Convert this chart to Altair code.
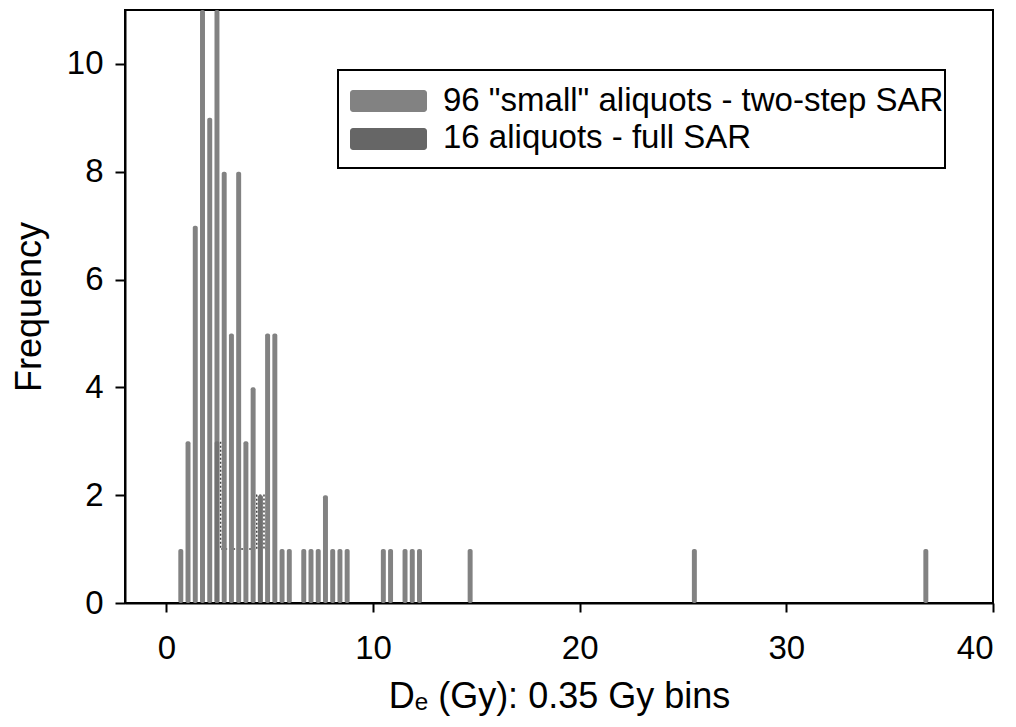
import altair as alt
import pandas as pd

# 96 "small" aliquots - two-step SAR (bin centre in Gy, count)
small_de = [0.7, 1.05, 1.4, 1.75, 2.1, 2.45, 2.8, 3.15, 3.5, 3.85, 4.2, 4.55, 4.9, 5.25,
            5.6, 5.95, 6.65, 7.0, 7.35, 7.7, 8.05, 8.4, 8.75, 10.5, 10.85, 11.55, 11.9,
            12.25, 14.7, 25.55, 36.75]
small_n = [1, 3, 7, 12, 9, 12, 8, 5, 8, 3, 4, 2, 5, 5,
           1, 1, 1, 1, 1, 2, 1, 1, 1, 1, 1, 1, 1,
           1, 1, 1, 1]

# 16 aliquots - full SAR
full_de = [2.45, 2.8, 3.15, 3.5, 3.85, 4.2, 4.55, 4.9]
full_n = [3, 1, 1, 1, 1, 1, 2, 1]

series_names = ['96 "small" aliquots - two-step SAR', '16 aliquots - full SAR']
series_colors = ["#828282", "#666666"]

x_ticks = [0, 10, 20, 30, 40]
y_ticks = [0, 2, 4, 6, 8, 10]

HALF_BAR = 0.12

df_small = pd.DataFrame({"de": small_de, "n": small_n})
df_full = pd.DataFrame({"de": full_de, "n": full_n})
df_one = pd.DataFrame({"k": [0]})

FONT = "Liberation Sans"

xs = alt.Scale(domain=[-2, 40], nice=False, zero=False, padding=0)
ys = alt.Scale(domain=[0, 11], nice=False, clamp=True, padding=0)

common = dict(grid=False, labelFont=FONT, titleFont=FONT, titleFontWeight="normal",
              labelColor="black", titleColor="black", domainColor="black", domainWidth=2,
              tickColor="black", tickWidth=2, labelFontSize=33, titleFontSize=36)

xaxis = alt.Axis(values=x_ticks, title="Dₑ (Gy): 0.35 Gy bins", tickSize=9,
                 labelPadding=20, titlePadding=14, **common)
yaxis = alt.Axis(values=y_ticks, title="Frequency", tickSize=10, labelPadding=12,
                 titlePadding=18, **common)

# full-SAR histogram outline (dotted step line, drawn behind)
full_line = alt.Chart(df_full).mark_line(
    interpolate="step", stroke="#444444", strokeWidth=1.5, strokeDash=[2, 2]
).encode(
    x=alt.X("de:Q", scale=xs, axis=xaxis),
    y=alt.Y("n:Q", scale=ys, axis=yaxis),
)

small = alt.Chart(df_small).transform_calculate(
    x0=f"datum.de - {HALF_BAR}", x1=f"datum.de + {HALF_BAR}"
).mark_bar(color=series_colors[0], cornerRadius=2).encode(
    x=alt.X("x0:Q", scale=xs),
    x2="x1:Q",
    y=alt.Y("n:Q", scale=ys),
    y2=alt.datum(0),
)

full_top = alt.Chart(df_full).transform_filter("datum.n > 1").transform_calculate(
    x0=f"datum.de - {HALF_BAR}", x1=f"datum.de + {HALF_BAR}"
).mark_bar(color=series_colors[1], opacity=0.55, cornerRadius=2).encode(
    x=alt.X("x0:Q", scale=xs),
    x2="x1:Q",
    y=alt.Y("n:Q", scale=ys),
    y2=alt.datum(0),
)

box = alt.Chart(df_one).mark_rect(fill="white", stroke="black", strokeWidth=2).encode(
    x=alt.value(213), x2=alt.value(820), y=alt.value(60), y2=alt.value(158)
)
sw1 = alt.Chart(df_one).mark_rect(cornerRadius=3, color=series_colors[0]).encode(
    x=alt.value(225), x2=alt.value(302), y=alt.value(80), y2=alt.value(102))
sw2 = alt.Chart(df_one).mark_rect(cornerRadius=3, color=series_colors[1]).encode(
    x=alt.value(225), x2=alt.value(302), y=alt.value(118), y2=alt.value(140))
t1 = alt.Chart(df_one).mark_text(align="left", baseline="middle", fontSize=33,
                                 font=FONT, color="black").encode(
    x=alt.value(318), y=alt.value(91), text=alt.value(series_names[0]))
t2 = alt.Chart(df_one).mark_text(align="left", baseline="middle", fontSize=33,
                                 font=FONT, color="black").encode(
    x=alt.value(318), y=alt.value(128), text=alt.value(series_names[1]))

chart = alt.layer(full_line, small, full_top, box, sw1, sw2, t1, t2).properties(
    width=868, height=593,
    background="white",
    autosize=alt.AutoSizeParams(type="none"),
    padding={"left": 125, "top": 10, "right": 23, "bottom": 124},
).configure_view(stroke="black", strokeWidth=2)

chart.save("out.html", embed_options={"renderer": "svg", "actions": False})
